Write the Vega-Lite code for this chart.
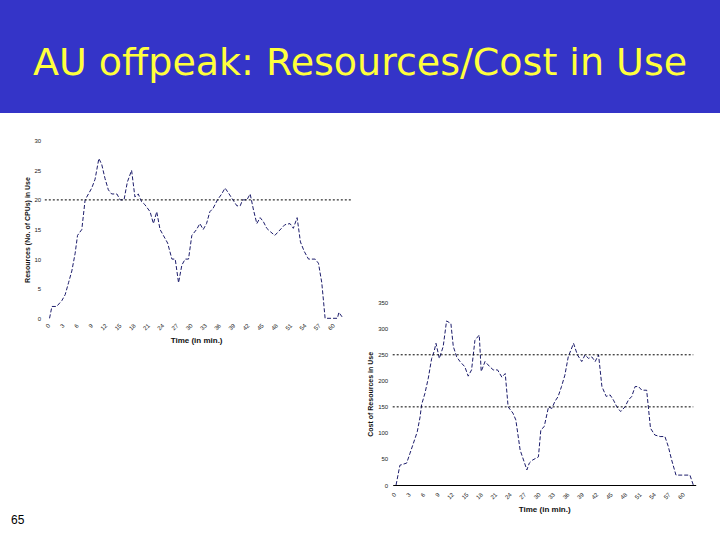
{
  "$schema": "https://vega.github.io/schema/vega-lite/v6.json",
  "padding": 0,
  "spacing": 0,
  "background": "white",
  "config": {"view": {"stroke": null}, "axis": {"grid": false, "labelFont": "Liberation Sans", "titleFont": "Liberation Sans", "labelColor": "#222222", "titleColor": "#111111", "labelOverlap": false, "labelFlush": false}},
  "datasets": {
    "res": [
      {"t":0.6,"v":0},{"t":1.1,"v":2},{"t":2.1,"v":2},{"t":3.2,"v":3},{"t":3.9,"v":4},{"t":4.6,"v":6},{"t":5.3,"v":8},{"t":6.0,"v":11},{"t":6.5,"v":14},{"t":7.4,"v":15},{"t":8.1,"v":20},{"t":8.8,"v":21},{"t":9.5,"v":22},{"t":10.2,"v":23.5},{"t":11.0,"v":27},{"t":11.6,"v":26},{"t":12.3,"v":23.6},{"t":13.0,"v":21.7},{"t":13.7,"v":21},{"t":14.8,"v":21},{"t":15.5,"v":20},{"t":16.3,"v":20},{"t":17.0,"v":23},{"t":17.9,"v":25},{"t":18.6,"v":20.5},{"t":19.3,"v":21},{"t":20.0,"v":19.7},{"t":20.7,"v":19.2},{"t":21.8,"v":18},{"t":22.5,"v":16},{"t":23.2,"v":18},{"t":23.9,"v":15},{"t":24.6,"v":14},{"t":25.5,"v":12.7},{"t":26.4,"v":10},{"t":27.1,"v":10},{"t":27.8,"v":6},{"t":28.5,"v":9},{"t":29.2,"v":10},{"t":29.9,"v":10},{"t":30.6,"v":14},{"t":31.6,"v":15},{"t":32.3,"v":16},{"t":33.0,"v":15},{"t":33.7,"v":16},{"t":34.4,"v":18},{"t":35.1,"v":18.6},{"t":36.0,"v":20},{"t":36.9,"v":21},{"t":37.6,"v":22},{"t":38.3,"v":21.2},{"t":39.1,"v":20.2},{"t":40.1,"v":19},{"t":40.8,"v":19},{"t":41.3,"v":20},{"t":42.2,"v":20},{"t":42.9,"v":21},{"t":43.6,"v":18.3},{"t":44.3,"v":16},{"t":45.0,"v":17},{"t":45.7,"v":16.3},{"t":46.4,"v":15.2},{"t":47.2,"v":14.6},{"t":48.1,"v":14},{"t":48.8,"v":14.6},{"t":49.5,"v":15.2},{"t":50.2,"v":15.8},{"t":51.3,"v":16},{"t":52.0,"v":15.2},{"t":52.8,"v":17},{"t":53.5,"v":12.9},{"t":54.3,"v":11.3},{"t":55.2,"v":10},{"t":56.6,"v":10},{"t":57.3,"v":9.3},{"t":58.0,"v":6},{"t":58.7,"v":0},{"t":61.3,"v":0},{"t":61.6,"v":1},{"t":62.5,"v":0}
    ],
    "resRule": [{"t": -0.4, "t2": 64.4, "v": 20}],
    "cost": [
      {"t":0.7,"c":0},{"t":1.5,"c":38},{"t":2.9,"c":42},{"t":3.6,"c":61},{"t":4.3,"c":80},{"t":5.1,"c":102},{"t":5.7,"c":131},{"t":6.0,"c":154},{"t":6.7,"c":176},{"t":7.4,"c":205},{"t":8.1,"c":243},{"t":8.6,"c":256},{"t":9.0,"c":272},{"t":9.7,"c":243},{"t":10.5,"c":266},{"t":11.2,"c":315},{"t":12.1,"c":310},{"t":12.6,"c":266},{"t":13.3,"c":246},{"t":14.0,"c":237},{"t":15.0,"c":227},{"t":15.7,"c":209},{"t":16.4,"c":221},{"t":17.1,"c":278},{"t":18.0,"c":288},{"t":18.4,"c":218},{"t":19.2,"c":237},{"t":20.2,"c":227},{"t":20.9,"c":221},{"t":21.8,"c":221},{"t":22.7,"c":207},{"t":23.4,"c":214},{"t":24.0,"c":150},{"t":25.0,"c":138},{"t":25.6,"c":125},{"t":26.5,"c":67},{"t":27.2,"c":48},{"t":27.9,"c":29},{"t":28.4,"c":42},{"t":29.1,"c":48},{"t":30.3,"c":54},{"t":30.8,"c":106},{"t":31.5,"c":112},{"t":32.4,"c":150},{"t":33.1,"c":147},{"t":33.7,"c":160},{"t":34.4,"c":170},{"t":35.1,"c":189},{"t":35.8,"c":211},{"t":36.5,"c":246},{"t":37.6,"c":272},{"t":38.4,"c":250},{"t":39.3,"c":237},{"t":40.0,"c":250},{"t":40.7,"c":243},{"t":41.4,"c":246},{"t":42.1,"c":237},{"t":42.8,"c":250},{"t":43.5,"c":189},{"t":44.4,"c":170},{"t":45.2,"c":173},{"t":45.9,"c":163},{"t":46.6,"c":150},{"t":47.4,"c":141},{"t":48.3,"c":150},{"t":49.0,"c":163},{"t":49.7,"c":170},{"t":50.4,"c":189},{"t":51.1,"c":189},{"t":51.8,"c":182},{"t":52.8,"c":182},{"t":53.6,"c":109},{"t":54.5,"c":96},{"t":55.6,"c":93},{"t":56.6,"c":93},{"t":57.3,"c":74},{"t":58.0,"c":48},{"t":58.9,"c":19},{"t":61.8,"c":19},{"t":62.5,"c":0}
    ],
    "costRule": [{"t": 0, "t2": 62.5, "c": 150}, {"t": 0, "t2": 62.5, "c": 250}]
  },
  "vconcat": [
    {
      "width": 720,
      "height": 113,
      "view": {"fill": "#3434C8", "stroke": null},
      "data": {"values": [{"label": "AU offpeak: Resources/Cost in Use"}]},
      "mark": {"type": "text", "font": "DejaVu Sans", "fontSize": 38, "color": "#FFFF3C", "align": "center", "baseline": "middle", "dy": 7},
      "encoding": {"text": {"field": "label", "type": "nominal"}}
    },
    {
      "width": 720,
      "height": 427,
      "title": {"text": "65", "orient": "bottom", "anchor": "start", "offset": -25, "dx": 11, "fontSize": 12, "font": "Liberation Sans", "fontWeight": "normal", "color": "#000000"},
      "layer": [
        {
          "layer": [
            {
              "data": {"name": "res"},
              "mark": {"type": "line", "color": "#1c1c6b", "strokeWidth": 1, "strokeDash": [4, 2]},
              "encoding": {
                "x": {"field": "t", "type": "quantitative", "scale": {"domain": [0, 63], "range": [46.7, 345.5], "nice": false, "zero": false},
                      "axis": {"orient": "bottom", "offset": -222, "values": [0,3,6,9,12,15,18,21,24,27,30,33,36,39,42,45,48,51,54,57,60], "tickCount": 40, "labelOverlap": false, "labelAngle": -45, "labelFontSize": 6, "labelPadding": 4, "ticks": false, "domain": false, "title": "Time (in min.)", "titleFontSize": 8, "titleFontWeight": "bold", "titlePadding": 6}},
                "y": {"field": "v", "type": "quantitative", "scale": {"domain": [0, 30], "range": [205.3, 27.7], "nice": false, "zero": false},
                      "axis": {"orient": "left", "offset": -46.7, "values": [0,5,10,15,20,25,30], "tickCount": 20, "labelOverlap": false, "labelFontSize": 6, "labelPadding": 6, "ticks": false, "domain": false, "title": "Resources (No. of CPUs) in Use", "titleFontSize": 7, "titleFontWeight": "bold", "titlePadding": 4}}
              }
            },
            {
              "data": {"name": "resRule"},
              "mark": {"type": "rule", "color": "#000000", "strokeWidth": 1, "strokeDash": [2, 2]},
              "encoding": {
                "x": {"field": "t", "type": "quantitative"},
                "x2": {"field": "t2"},
                "y": {"field": "v", "type": "quantitative"}
              }
            }
          ]
        },
        {
          "layer": [
            {
              "data": {"name": "cost"},
              "mark": {"type": "line", "color": "#1c1c6b", "strokeWidth": 1, "strokeDash": [4, 2]},
              "encoding": {
                "x": {"field": "t", "type": "quantitative", "scale": {"domain": [0, 63], "range": [392.7, 695.7], "nice": false, "zero": false},
                      "axis": {"orient": "bottom", "offset": -55, "values": [0,3,6,9,12,15,18,21,24,27,30,33,36,39,42,45,48,51,54,57,60], "tickCount": 40, "labelOverlap": false, "labelAngle": -45, "labelFontSize": 6, "labelPadding": 6, "ticks": false, "domain": true, "domainColor": "#000000", "domainWidth": 1, "title": "Time (in min.)", "titleFontSize": 8, "titleFontWeight": "bold", "titlePadding": 6}},
                "y": {"field": "c", "type": "quantitative", "scale": {"domain": [0, 350], "range": [372, 189.7], "nice": false, "zero": false},
                      "axis": {"orient": "left", "offset": -392.7, "values": [0,50,100,150,200,250,300,350], "tickCount": 20, "labelOverlap": false, "labelFontSize": 6, "labelPadding": 5, "ticks": false, "domain": false, "title": "Cost of Resources in Use", "titleFontSize": 7, "titleFontWeight": "bold", "titlePadding": 4}}
              }
            },
            {
              "data": {"name": "costRule"},
              "mark": {"type": "rule", "color": "#000000", "strokeWidth": 1, "strokeDash": [2, 2]},
              "encoding": {
                "x": {"field": "t", "type": "quantitative"},
                "x2": {"field": "t2"},
                "y": {"field": "c", "type": "quantitative"}
              }
            }
          ]
        }
      ],
      "resolve": {"scale": {"x": "independent", "y": "independent"}, "axis": {"x": "independent", "y": "independent"}}
    }
  ]
}
